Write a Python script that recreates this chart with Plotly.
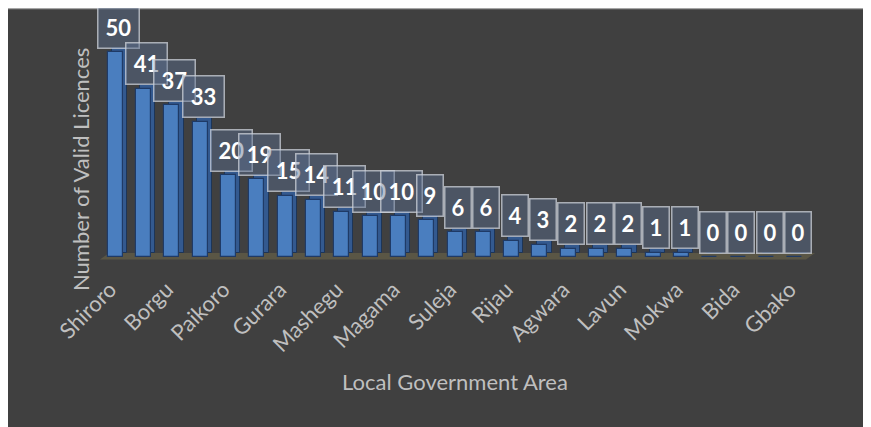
import plotly.graph_objects as go

# ---- data ----
lga = ["Shiroro", "Chanchaga", "Borgu", "Rafi", "Paikoro", "Bosso", "Gurara", "Tafa",
       "Mashegu", "Mariga", "Magama", "Kontagora", "Suleja", "Munya", "Rijau", "Wushishi",
       "Agwara", "Lapai", "Lavun", "Edati", "Mokwa", "Agaie", "Bida", "Katcha", "Gbako"]
licences = [50, 41, 37, 33, 20, 19, 15, 14, 11, 10, 10, 9, 6, 6, 4, 3, 2, 2, 2, 1, 1, 0, 0, 0, 0]
shown_ticks = lga[::2]
y_title = "Number of Valid Licences"
x_title = "Local Government Area"

# page body has an 8px margin, so the figure is drawn at (8, 8)
W, H = 863, 419
L, R, T, B = 93, 62, 3, 170
PW, PH = W - L - R, H - T - B
OFF = 8  # reference pixel -> figure pixel offset


def px(xp):
    return (xp - OFF - L) / PW


def py(yp):
    return (H - B - (yp - OFF)) / PH


FONT = "Lato, 'Open Sans', sans-serif"
GREY = "#bfbfbf"

fig = go.Figure()

# back (depth) face of the 3D bars
fig.add_trace(go.Bar(
    x=lga, y=licences, base=[0.9] * len(lga),
    width=0.53, offset=-0.265 + 0.15,
    marker=dict(color="#33598f", line=dict(color="#1d3557", width=1)),
    hoverinfo="skip", showlegend=False,
))
# front face
fig.add_trace(go.Bar(
    x=lga, y=licences,
    width=0.53, offset=-0.265,
    marker=dict(color="#4a7ebf", line=dict(color="#1f3a66", width=1.2)),
    showlegend=False,
))

# value label boxes
for name, v in zip(lga, licences):
    s = str(v)
    fig.add_annotation(
        x=name, y=v, text=f"<b>{s}</b>", showarrow=False,
        xshift=3, yshift=25,
        font=dict(family=FONT, size=22, color="white"),
        bgcolor="rgba(90,110,145,0.45)",
        bordercolor="rgba(205,210,218,0.75)", borderwidth=1.5,
        borderpad=3, width=15 * len(s) + 4, height=34,
    )

# y-axis title (centred lower than the plot area, as in the original)
fig.add_annotation(
    xref="paper", yref="paper", x=px(80), y=py(170),
    text=y_title, textangle=-90, showarrow=False,
    xanchor="center", yanchor="middle",
    font=dict(family=FONT, size=22, color=GREY),
)

shapes = [
    # dark chart background with light border
    dict(type="rect", xref="paper", yref="paper", layer="below",
         x0=px(7), x1=px(W + OFF + 5), y0=py(H + OFF + 5), y1=py(8.5),
         fillcolor="#404040", line=dict(color="#a6a6a6", width=1.5)),
    # 3D floor strip
    dict(type="path", xref="paper", yref="paper", layer="below",
         path=f"M {px(100)} {py(259.5)} L {px(806)} {py(259.5)} "
              f"L {px(815)} {py(253)} L {px(109)} {py(253)} Z",
         fillcolor="#5a5645", line=dict(width=0)),
]

fig.update_layout(
    width=W, height=H,
    margin=dict(l=L, r=R, t=T, b=B, pad=0),
    paper_bgcolor="#404040", plot_bgcolor="rgba(0,0,0,0)",
    barmode="overlay", bargap=0,
    shapes=shapes,
    font=dict(family=FONT, color=GREY),
    xaxis=dict(
        type="category", range=[-0.5, len(lga) - 0.5],
        tickmode="array", tickvals=shown_ticks, ticktext=shown_ticks,
        tickangle=-45, ticks="outside", ticklen=10, tickcolor="rgba(0,0,0,0)",
        ticklabelshift=-5,
        tickfont=dict(family=FONT, size=22, color=GREY),
        showgrid=False, showline=False, zeroline=False,
        title=dict(text=x_title, standoff=18,
                   font=dict(family=FONT, size=22, color=GREY)),
    ),
    yaxis=dict(
        range=[0, 60], showticklabels=False, ticks="",
        showgrid=False, zeroline=False, showline=False,
    ),
)

fig.write_html("out.html")
